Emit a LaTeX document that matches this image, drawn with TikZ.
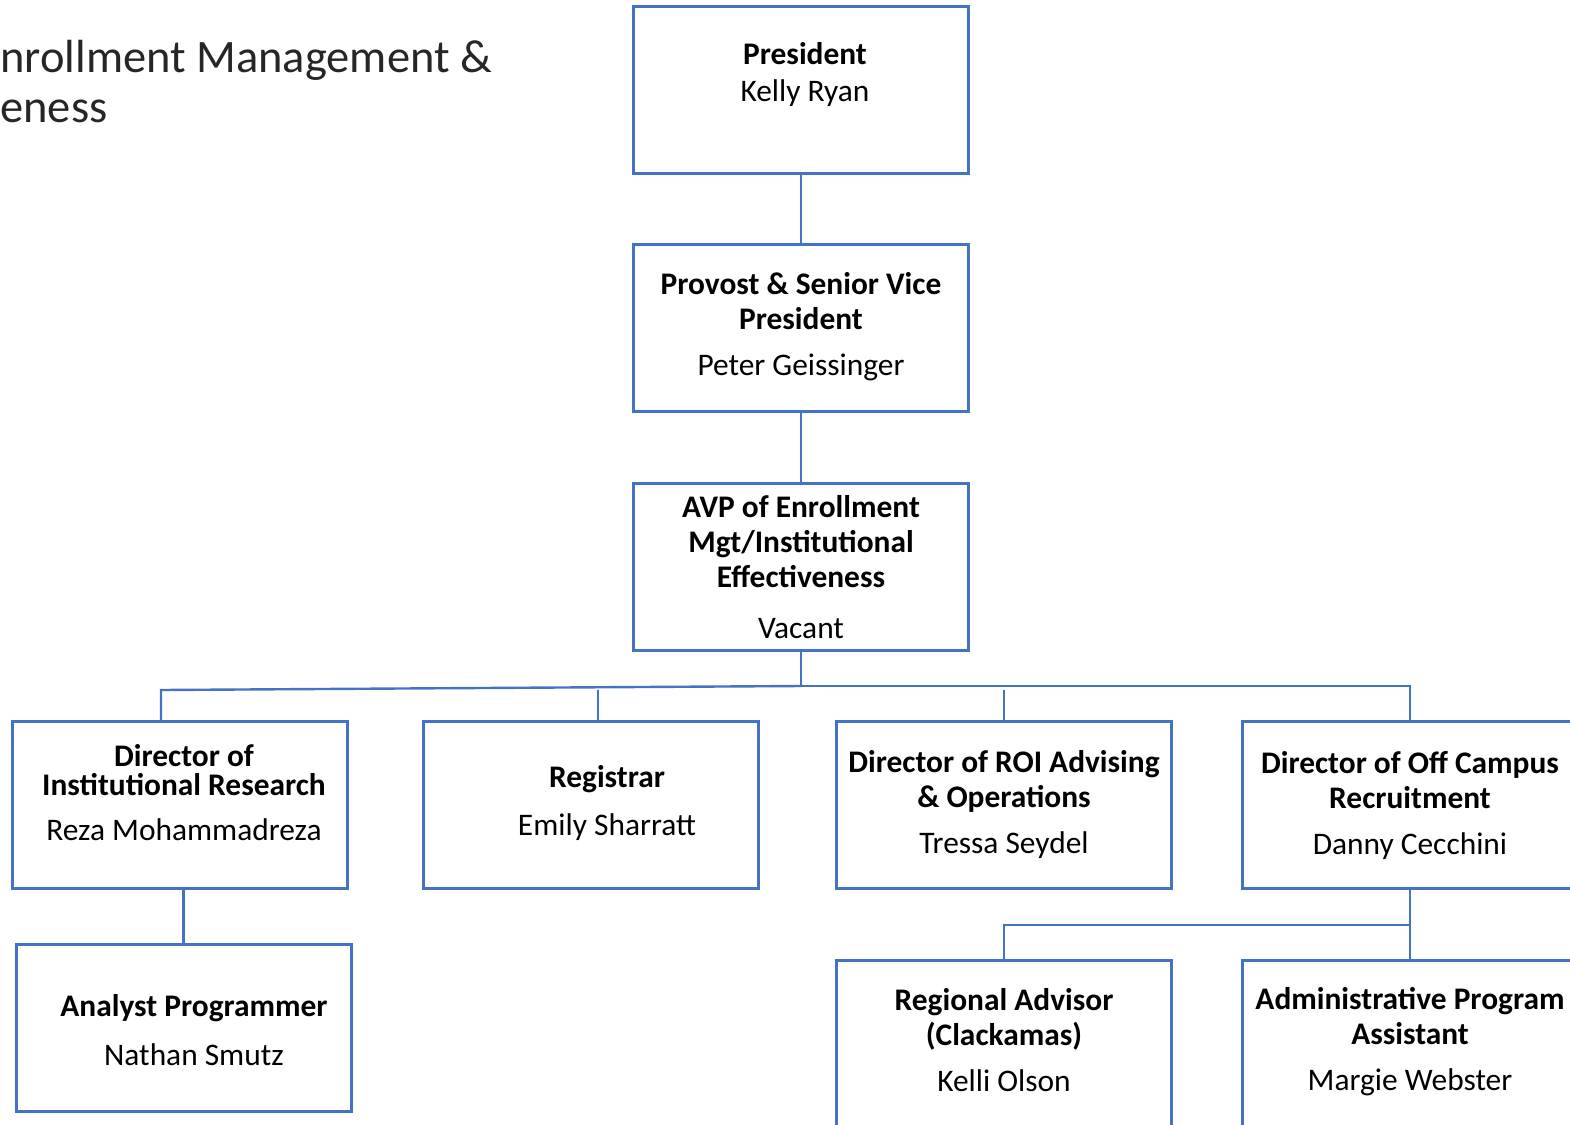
\documentclass[tikz,border=0pt]{standalone}
\usepackage{fontspec}
\setmainfont{Carlito}
\usetikzlibrary{positioning}
\definecolor{boxblue}{HTML}{4472C4}
\tikzset{
  orgbox/.style={draw=boxblue, line width=1.5pt, minimum width=167.5pt, minimum height=83.5pt, inner sep=0pt},
  orgtext/.style={align=center, inner sep=0pt, font=\fontsize{15.7}{17.5}\selectfont},
  link/.style={draw=boxblue, line width=1.2pt}
}
\begin{document}
\begin{tikzpicture}[x=0.5pt,y=-0.5pt]
\useasboundingbox (0,0) rectangle (1570,1125);
% titel
\node[anchor=base west, inner sep=0pt, text=black!85, font=\fontsize{23.25}{27}\selectfont] (title1) at (0,72) {nrollment Management \&};
\node[anchor=base west, inner sep=0pt, text=black!85, font=\fontsize{23.25}{27}\selectfont] (title2) at (0,122) {eness};

% rutor
\node[orgbox] (pres) at (801,90) {};
\node[orgbox] (prov) at (801,328) {};
\node[orgbox] (avp) at (801,567) {};
\node[orgbox] (dirir) at (180,805) {};
\node[orgbox] (reg) at (591,805) {};
\node[orgbox] (roi) at (1004,805) {};
\node[orgbox] (offc) at (1410,805) {};
\node[orgbox] (analyst) at (183.5,1027.5) {};
\node[orgbox] (regadv) at (1004,1044) {};
\node[orgbox] (admin) at (1410,1044) {};

% text
\node[orgtext] (pres-t) at (805,75) {\textbf{President}\\[1pt] Kelly Ryan};
\node[orgtext] (prov-t) at (801,327) {\textbf{Provost \& Senior Vice}\\ \textbf{President}\\[5.5pt] Peter Geissinger};
\node[orgtext] (avp-t) at (801,567) {\textbf{AVP of Enrollment}\\ \textbf{Mgt/Institutional}\\ \textbf{Effectiveness}\\[8pt] Vacant};
\node[orgtext] (dirir-t) at (184,793) {\textbf{Director of}\\[-3pt] \textbf{Institutional Research}\\[5pt] Reza Mohammadreza};
\node[orgtext] (reg-t) at (607,803) {\textbf{Registrar}\\[6.5pt] Emily Sharratt};
\node[orgtext] (roi-t) at (1004,805) {\textbf{Director of ROI Advising}\\ \textbf{\& Operations}\\[5.5pt] Tressa Seydel};
\node[orgtext] (offc-t) at (1410,805) {\textbf{Director of Off Campus}\\ \textbf{Recruitment}\\[5.5pt] Danny Cecchini};
\node[orgtext] (analyst-t) at (194,1030) {\textbf{Analyst Programmer}\\[7pt] Nathan Smutz};
\node[orgtext] (regadv-t) at (1004,1040) {\textbf{Regional Advisor}\\ \textbf{(Clackamas)}\\[5.5pt] Kelli Olson};
\node[orgtext] (admin-t) at (1410,1042) {\textbf{Administrative Program}\\ \textbf{Assistant}\\[5.5pt] Margie Webster};

% linjer
\coordinate (bus) at (801,686);
\coordinate (busl) at (161,690);
\coordinate (regtap) at (598,690);
\coordinate (roitap) at (1004,690);
\coordinate (bus2) at (1410,925);
\draw[link] (pres.south) -- (prov.north);
\draw[link] (prov.south) -- (avp.north);
\draw[link] (avp.south) -- (bus) -| (offc.north);
\draw[link] (bus) -- (busl) -- (busl |- dirir.north);
\draw[link] (regtap) -- (regtap |- reg.north);
\draw[link] (roitap) -- (roi.north);
\draw[link] (analyst.north |- dirir.south) -- (analyst.north);
\draw[link] (offc.south) -- (admin.north);
\draw[link] (bus2) -| (regadv.north);
\end{tikzpicture}
\end{document}
